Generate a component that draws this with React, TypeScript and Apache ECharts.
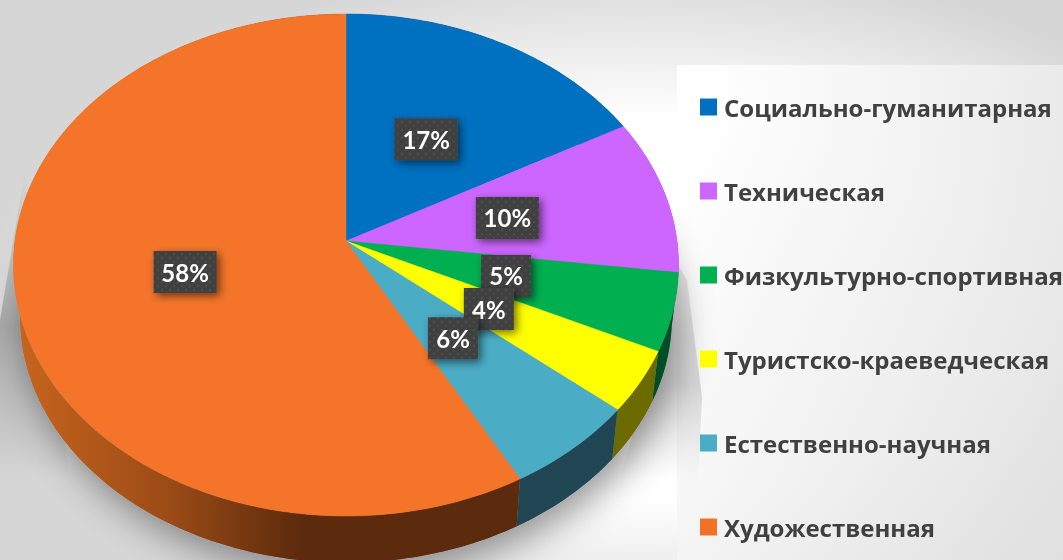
import React, { useEffect, useRef } from "react";
import * as echarts from "echarts";

const categories = [
  "Социально-гуманитарная",
  "Техническая",
  "Физкультурно-спортивная",
  "Туристско-краеведческая",
  "Естественно-научная",
  "Художественная",
];
const shares = [17, 10, 5, 4, 6, 58];
const topColors = ["#0070C0", "#CC66FF", "#00B050", "#FFFF00", "#4BACC6", "#F4752A"];
const legendColors = ["#0070C0", "#CC66FF", "#00B050", "#FFFF00", "#4BACC6", "#F07226"];
const sideColors = ["#003860", "#663380", "#004D26", "#6B6B00", "#1F4652", "#7A3A10"];
const labelRadii = [0.515, 0.505, 0.49, 0.485, 0.47, 0.49];

const TOP = { cx: 346, cy: 241, a: 331, b: 248.7 };
const BOTTOM = { cx: 346, cy: 294, a: 324.5, b: 243 };
const K = 0.0956;

function project(ring: typeof TOP, frac: number, r = 1): [number, number] {
  const t = frac * 2 * Math.PI;
  const u = Math.sin(t);
  const v = -Math.cos(t);
  const d = 1 - K * v;
  return [ring.cx + (r * ring.a * u) / d, ring.cy + (r * ring.b * v) / d];
}

function arc(ring: typeof TOP, from: number, to: number): [number, number][] {
  const n = Math.max(2, Math.ceil((to - from) * 360));
  const pts: [number, number][] = [];
  for (let i = 0; i <= n; i++) pts.push(project(ring, from + ((to - from) * i) / n));
  return pts;
}

const dots =
  "data:image/svg+xml;utf8," +
  encodeURIComponent(
    '<svg xmlns="http://www.w3.org/2000/svg" width="8" height="8"><rect width="8" height="8" fill="#404040"/><circle cx="2" cy="2" r="1.2" fill="#505050"/><circle cx="6" cy="6" r="1.2" fill="#4c4c4c"/></svg>'
  );

function startOf(i: number) {
  const sum = shares.reduce((s, v) => s + v, 0);
  return shares.slice(0, i).reduce((s, v) => s + v, 0) / sum;
}

function buildOption() {
  const sum = shares.reduce((s, v) => s + v, 0);
  const sideSeries = {
    type: "custom",
    name: "side",
    coordinateSystem: "none",
    silent: true,
    z: 2,
    data: shares.map((v, i) => [v, i]),
    renderItem: (_: any, api: any) => {
      const v = api.value(0);
      const i = api.value(1);
      const from = startOf(i);
      const to = from + v / sum;
      const top = arc(TOP, from, to);
      const bottom = arc(BOTTOM, from, to).reverse();
      const isLast = i === shares.length - 1;
      return {
        type: "polygon",
        shape: { points: [...top, ...bottom] },
        style: {
          fill: isLast
            ? new echarts.graphic.LinearGradient(0, 0, 1, 0, [
                { offset: 0, color: "#C8651E" },
                { offset: 0.3, color: "#9C4C16" },
                { offset: 0.57, color: "#5C2A0C" },
                { offset: 1, color: "#5C2A0C" },
              ])
            : sideColors[i],
          stroke: null,
        },
      };
    },
  };
  const topSeries = categories.map((name, i) => ({
    type: "custom",
    name,
    coordinateSystem: "none",
    z: 3,
    itemStyle: { color: legendColors[i] },
    data: [[shares[i], i]],
    renderItem: (_: any, api: any) => {
      const v = api.value(0);
      const idx = api.value(1);
      const from = startOf(idx);
      const to = from + v / sum;
      return {
        type: "polygon",
        shape: { points: [[TOP.cx, TOP.cy], ...arc(TOP, from, to)] },
        style: { fill: topColors[idx], stroke: topColors[idx], lineWidth: 0.5 },
      };
    },
  }));
  const labelSeries = {
    type: "custom",
    name: "labels",
    coordinateSystem: "none",
    silent: true,
    z: 5,
    data: shares.map((v, i) => [v, i]),
    renderItem: (_: any, api: any) => {
      const v = api.value(0);
      const i = api.value(1);
      const mid = startOf(i) + v / sum / 2;
      const [x, y] = project(TOP, mid, labelRadii[i]);
      const text = `${v}%`;
      const w = text.length === 3 ? 63 : 50;
      const h = 42;
      return {
        type: "group",
        children: [
          {
            type: "rect",
            shape: { x: x - w / 2, y: y - h / 2, width: w, height: h },
            style: {
              fill: { image: dots, repeat: "repeat", imageWidth: 8, imageHeight: 8 },
              shadowBlur: 8,
              shadowOffsetX: 3,
              shadowOffsetY: 3,
              shadowColor: "rgba(0,0,0,0.55)",
            },
          },
          {
            type: "text",
            x,
            y,
            style: {
              text,
              fill: "#ffffff",
              font: "bold 24px Lato, 'Open Sans', sans-serif",
              align: "center",
              verticalAlign: "middle",
            },
          },
        ],
      };
    },
  };
  return {
    animation: false,
    graphic: [
      {
        type: "rect",
        z: -10,
        shape: { x: 0, y: 0, width: 1063, height: 560 },
        style: {
          fill: new echarts.graphic.RadialGradient(0.6, 0.55, 0.62, [
            { offset: 0, color: "#ffffff" },
            { offset: 0.55, color: "#ffffff" },
            { offset: 1, color: "#d6d6d6" },
          ]),
        },
      },
      {
        type: "rect",
        z: -9,
        shape: { x: 677, y: 65, width: 386, height: 495 },
        style: {
          fill: new echarts.graphic.LinearGradient(0, 0.2, 1, 0.8, [
            { offset: 0, color: "rgba(255,255,255,0.9)" },
            { offset: 1, color: "rgba(226,226,226,0.9)" },
          ]),
        },
      },
      {
        type: "polygon",
        z: -8,
        shape: { points: [[25, 170], [0, 320], [0, 480], [70, 480]] },
        style: {
          fill: new echarts.graphic.LinearGradient(0, 0, 0, 1, [
            { offset: 0, color: "rgba(0,0,0,0)" },
            { offset: 0.5, color: "rgba(0,0,0,0.22)" },
            { offset: 1, color: "rgba(0,0,0,0)" },
          ]),
        },
      },
      {
        type: "polygon",
        z: -8,
        shape: { points: [[678, 265], [687, 280], [702, 397], [698, 480], [620, 480]] },
        style: {
          fill: new echarts.graphic.LinearGradient(0, 0, 0, 1, [
            { offset: 0, color: "rgba(0,0,0,0.08)" },
            { offset: 0.55, color: "rgba(0,0,0,0.14)" },
            { offset: 1, color: "rgba(0,0,0,0)" },
          ]),
        },
      },
      {
        type: "polygon",
        z: 1,
        shape: { points: [...arc(BOTTOM, 0.2, 0.85)] },
        style: {
          fill: "#999999",
          shadowBlur: 36,
          shadowOffsetX: 6,
          shadowOffsetY: 12,
          shadowColor: "rgba(0,0,0,0.42)",
        },
      },
    ],
    legend: {
      orient: "vertical",
      left: 695,
      top: 90,
      icon: "rect",
      itemWidth: 17,
      itemHeight: 17,
      itemGap: 60,
      selectedMode: false,
      data: categories.map((name, i) => ({ name, itemStyle: { color: legendColors[i] } })),
      textStyle: {
        color: "#404040",
        fontFamily: "'Open Sans', sans-serif",
        fontWeight: "bold",
        fontSize: 24,
        lineHeight: 24,
        padding: [0, 0, 0, 2],
      },
    },
    series: [sideSeries, ...topSeries, labelSeries],
  };
}

export default function App() {
  const ref = useRef<HTMLDivElement>(null);
  useEffect(() => {
    const chart = echarts.init(ref.current!, undefined, { renderer: "svg" });
    chart.setOption(buildOption() as any);
    return () => chart.dispose();
  }, []);
  return (
    <div
      ref={ref}
      style={{ position: "fixed", left: 0, top: 0, width: 1063, height: 560 }}
    />
  );
}
